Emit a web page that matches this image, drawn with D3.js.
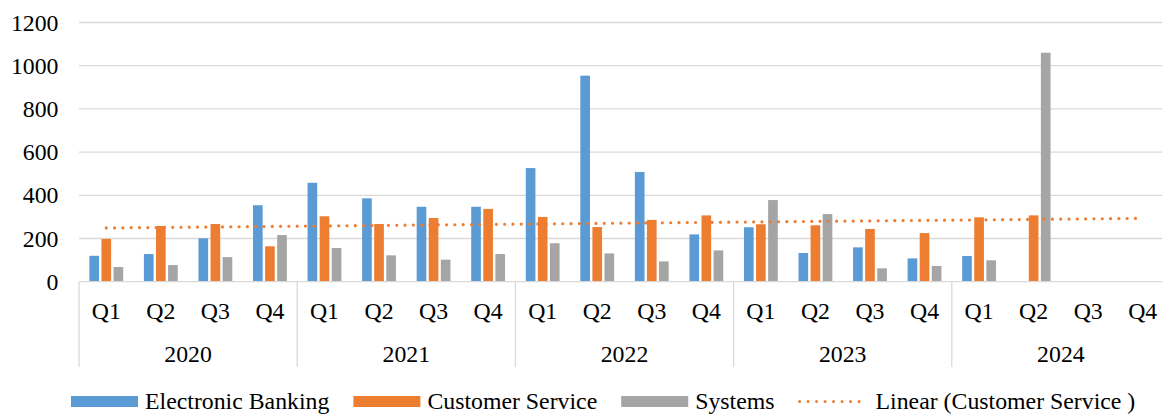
<!DOCTYPE html>
<html>
<head>
<meta charset="utf-8">
<script src="https://cdn.jsdelivr.net/npm/d3@7"></script>
<style>
  body { margin: 0; background: #fff; }
  svg { display: block; font-family: "Liberation Serif", "Times New Roman", serif; }
</style>
</head>
<body>
<div id="chart"></div>
<script>
const years = ["2020", "2021", "2022", "2023", "2024"];
const quarters = ["Q1", "Q2", "Q3", "Q4"];
const seriesNames = ["Electronic Banking", "Customer Service", "Systems"];
const electronicBanking = [120, 128, 201, 354, 458, 386, 347, 347, 526, 954, 508, 219, 252, 133, 159, 108, 119, null, null, null];
const customerService = [198, 258, 267, 164, 303, 267, 295, 337, 300, 253, 286, 307, 266, 261, 244, 225, 298, 307, null, null];
const systems = [68, 77, 114, 216, 156, 122, 102, 128, 178, 131, 94, 145, 378, 313, 62, 73, 99, 1060, null, null];
const yTicks = [0, 200, 400, 600, 800, 1000, 1200];
const colors = ["#5B9BD5", "#ED7D31", "#A5A5A5"];

const width = 1162, height = 415;
const plotLeft = 79, plotRight = 1170, plotTop = 22.5, plotBottom = 281.7;
const fontSize = 23.8;

// categories like "2020-Q1"
const cats = [];
years.forEach(yr => quarters.forEach(q => cats.push(yr + "-" + q)));
const allSeries = [electronicBanking, customerService, systems];

const svg = d3.select("#chart").append("svg")
    .attr("width", width)
    .attr("height", height);

const x = d3.scaleBand().domain(cats).range([plotLeft, plotRight]).padding(0);
const bw = x.bandwidth();
const xs = d3.scaleBand().domain(seriesNames)
    .range([bw * 0.19, bw * 0.81])
    .paddingInner(0.2);
const yearX = d3.scaleBand().domain(years).range([plotLeft, plotRight]);
const y = d3.scaleLinear().domain([0, 1200]).range([plotBottom, plotTop]);

// gridlines
svg.append("g")
    .selectAll("line")
    .data(yTicks.filter(d => d > 0))
    .enter().append("line")
        .attr("x1", plotLeft)
        .attr("x2", plotRight)
        .attr("y1", d => y(d))
        .attr("y2", d => y(d))
        .attr("stroke", "#D9D9D9")
        .attr("stroke-width", 1.3);

// y labels
svg.append("g")
    .selectAll("text")
    .data(yTicks)
    .enter().append("text")
        .attr("x", 58.5)
        .attr("y", d => y(d) + 8)
        .attr("text-anchor", "end")
        .attr("font-size", fontSize)
        .attr("fill", "#000")
        .text(d => d);

// bars
allSeries.forEach((vals, si) => {
    svg.append("g")
        .selectAll("rect")
        .data(vals.map((v, i) => ({cat: cats[i], v: v})).filter(d => d.v != null))
        .enter().append("rect")
            .attr("x", d => x(d.cat) + xs(seriesNames[si]))
            .attr("width", xs.bandwidth())
            .attr("y", d => y(d.v))
            .attr("height", d => y(0) - y(d.v))
            .attr("fill", colors[si]);
});

// axis line and dividers
svg.append("line")
    .attr("x1", plotLeft).attr("x2", plotRight)
    .attr("y1", y(0)).attr("y2", y(0))
    .attr("stroke", "#D9D9D9")
    .attr("stroke-width", 1.3);

svg.append("g")
    .selectAll("line")
    .data(years.concat(["end"]))
    .enter().append("line")
        .attr("x1", d => d === "end" ? plotRight : yearX(d))
        .attr("x2", d => d === "end" ? plotRight : yearX(d))
        .attr("y1", y(0))
        .attr("y2", 367)
        .attr("stroke", "#D9D9D9")
        .attr("stroke-width", 1.3);

// quarter labels
svg.append("g")
    .selectAll("text")
    .data(cats)
    .enter().append("text")
        .attr("x", d => x(d) + bw / 2)
        .attr("y", 319)
        .attr("text-anchor", "middle")
        .attr("font-size", fontSize)
        .text(d => d.split("-")[1]);

// year labels
svg.append("g")
    .selectAll("text")
    .data(years)
    .enter().append("text")
        .attr("x", d => yearX(d) + yearX.bandwidth() / 2)
        .attr("y", 361.5)
        .attr("text-anchor", "middle")
        .attr("font-size", fontSize)
        .text(d => d);

// linear trendline for Customer Service (least squares over existing points)
const pts = customerService.map((v, i) => [i + 1, v]).filter(d => d[1] != null);
const mx = d3.mean(pts, d => d[0]), my = d3.mean(pts, d => d[1]);
const slope = d3.sum(pts, d => (d[0] - mx) * (d[1] - my)) / d3.sum(pts, d => (d[0] - mx) * (d[0] - mx));
const icpt = my - slope * mx;
const trend = [1, cats.length].map(i => ({cat: cats[i - 1], v: icpt + slope * i}));

svg.append("path")
    .datum(trend)
    .attr("fill", "none")
    .attr("stroke", "#ED7D31")
    .attr("stroke-width", 3.2)
    .attr("stroke-linecap", "round")
    .attr("stroke-dasharray", "0 8.3")
    .attr("d", d3.line()
        .x(d => x(d.cat) + bw / 2)
        .y(d => y(d.v)));

// legend
const legend = svg.append("g");
let lx = 71;
const ly = 401.5;
const items = seriesNames.map((s, i) => ({name: s, color: colors[i], type: "bar"}))
    .concat([{name: "Linear (Customer Service )", color: "#ED7D31", type: "line"}]);
items.forEach(it => {
    if (it.type === "bar") {
        legend.append("rect")
            .attr("x", lx).attr("y", ly - 5.5)
            .attr("width", 67).attr("height", 11)
            .attr("fill", it.color);
        lx += 67 + 7;
    } else {
        legend.append("line")
            .attr("x1", lx + 1).attr("x2", lx + 69)
            .attr("y1", ly).attr("y2", ly)
            .attr("stroke", it.color)
            .attr("stroke-width", 3)
            .attr("stroke-linecap", "round")
            .attr("stroke-dasharray", "0 8.5");
        lx += 70 + 7;
    }
    const t = legend.append("text")
        .attr("x", lx)
        .attr("y", ly + 7.5)
        .attr("font-size", fontSize)
        .text(it.name);
    lx += t.node().getComputedTextLength() + 24;
});
</script>
</body>
</html>
